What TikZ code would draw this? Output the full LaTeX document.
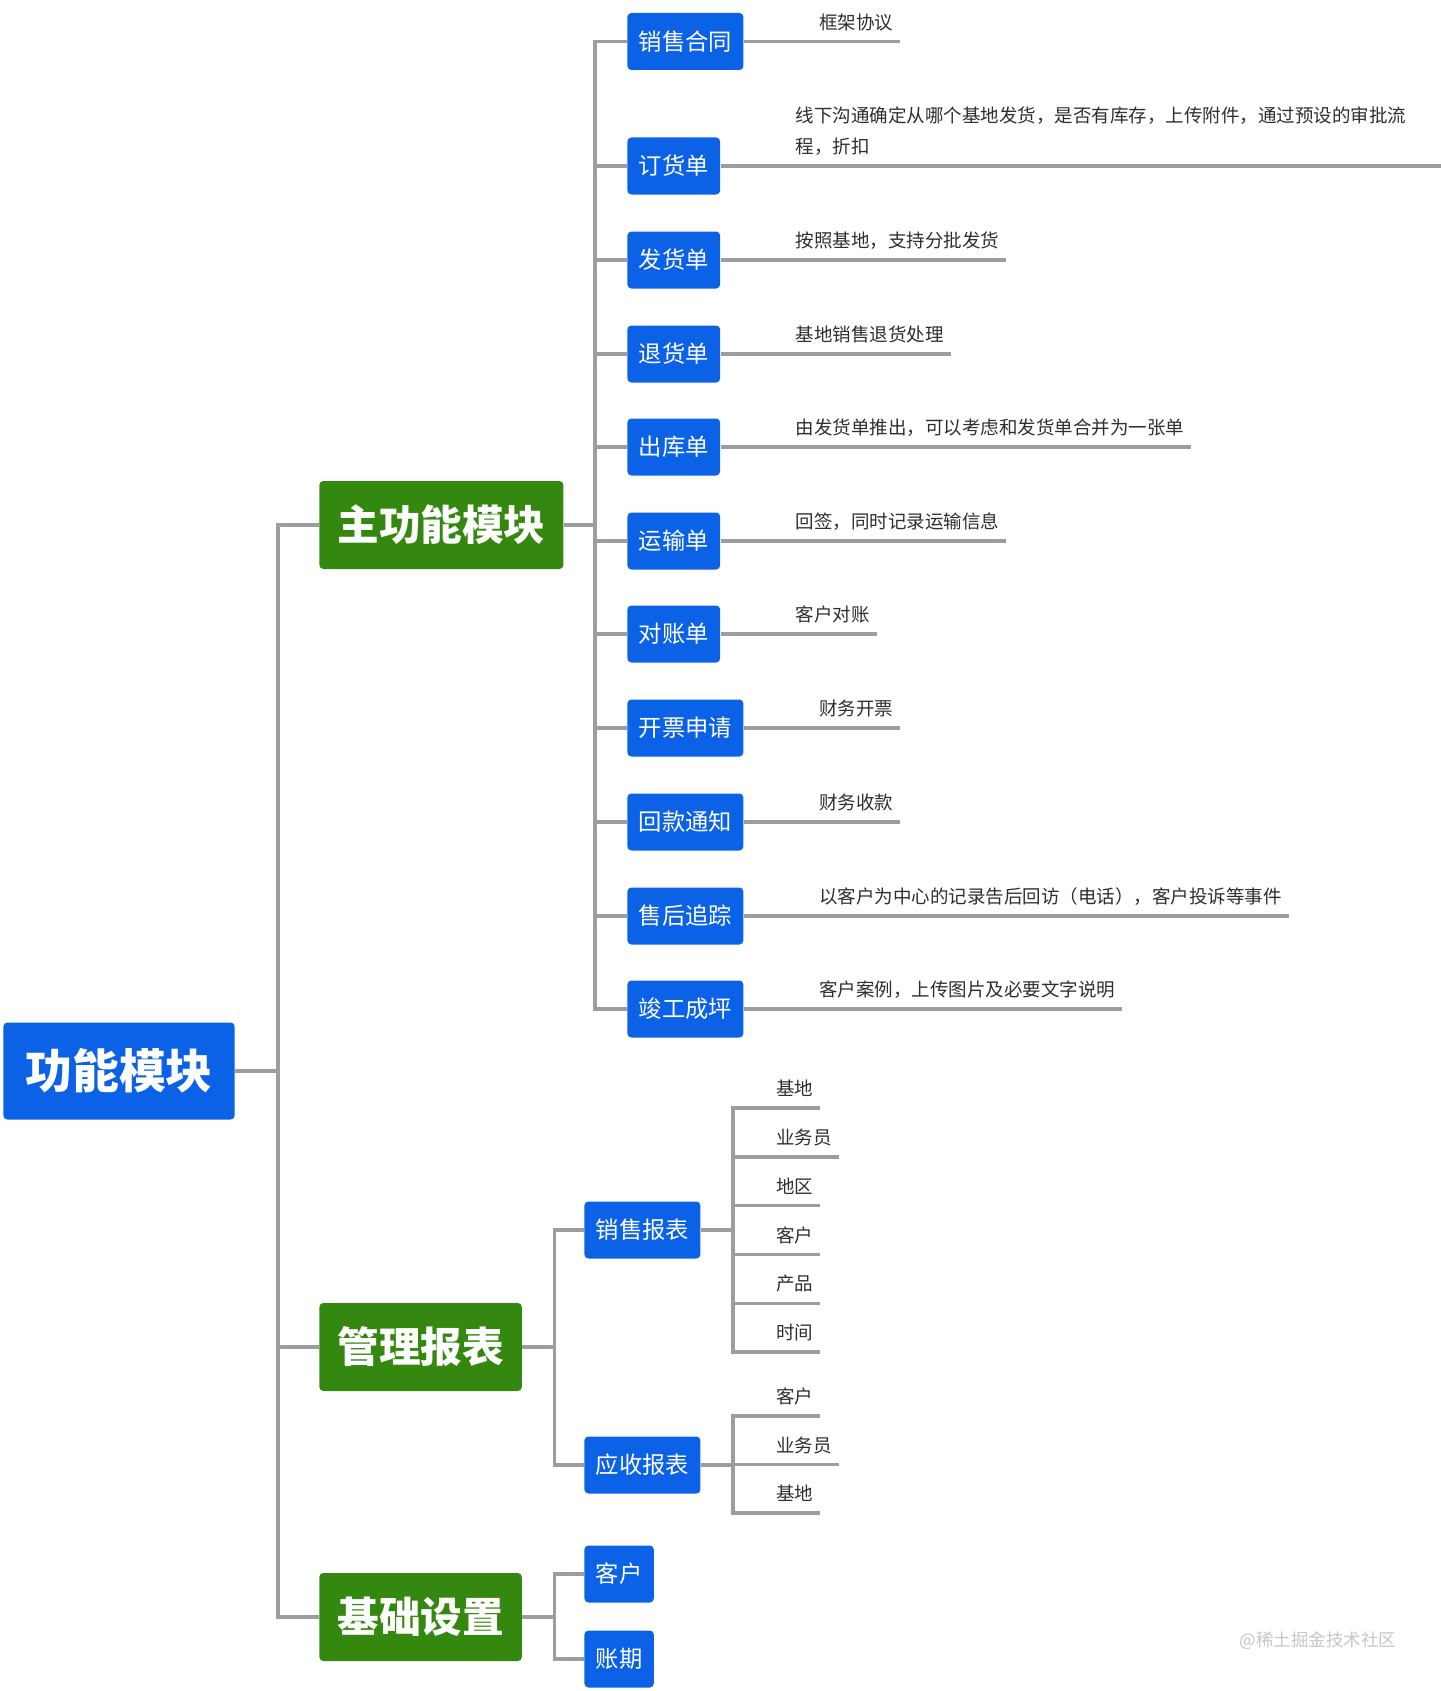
\documentclass[tikz,border=0pt]{standalone}
\usepackage{fontspec}
\setmainfont{Noto Sans CJK SC}
\definecolor{mapblue}{HTML}{0B62E6}
\definecolor{mapgreen}{HTML}{35880F}
\definecolor{mapline}{HTML}{9B9DA1}
\definecolor{maptext}{HTML}{2E2E2E}
\begin{document}
\begin{tikzpicture}[x=0.5pt, y=-0.5pt,
  root/.style={fill=mapblue, text=white, rounded corners=2pt, anchor=west,
    font=\fontsize{23.4}{28}\selectfont\bfseries, inner xsep=11pt, minimum height=48.5pt},
  topic/.style={fill=mapgreen, text=white, rounded corners=2pt, anchor=west,
    font=\fontsize{20.8}{25}\selectfont\bfseries, inner xsep=9pt, minimum height=44pt},
  item/.style={fill=mapblue, text=white, rounded corners=2pt, anchor=west,
    font=\fontsize{11.65}{14}\selectfont, inner xsep=5.7pt, minimum height=28.5pt},
  note/.style={anchor=south west, text=maptext, align=left,
    font=\fontsize{9.25}{15.5}\selectfont, inner xsep=3.25pt, inner ysep=6pt, text depth=0pt},
  link/.style={draw=mapline, line width=1.7pt}]
\useasboundingbox (0,0) rectangle (1440,1691);

% Root and first level
\node[root] (root) at (3,1071) {功能模块};
\node[topic] (main) at (319,525) {主功能模块};
\node[topic] (report) at (319,1347) {管理报表};
\node[topic] (base) at (319,1617) {基础设置};
\foreach \n in {main,report,base}
  \draw[link] (root.east) -- ++(43,0) |- (\n.west);

% Main module items
\node[item] (contract) at (627,41.5) {销售合同};
\node[item] (order) at (627,166) {订货单};
\node[item] (ship) at (627,260) {发货单};
\node[item] (return) at (627,354) {退货单};
\node[item] (out) at (627,447) {出库单};
\node[item] (transport) at (627,541) {运输单};
\node[item] (check) at (627,634) {对账单};
\node[item] (invoice) at (627,728) {开票申请};
\node[item] (payment) at (627,822) {回款通知};
\node[item] (service) at (627,916) {售后追踪};
\node[item] (finish) at (627,1009) {竣工成坪};

% Notes beside the items
\node[note] (contract-note) at ([xshift=34.25pt]contract.east) {框架协议};
\node[note, text width=319.25pt, yshift=15.5pt] (order-note) at ([xshift=34.25pt]order.east)
  {线下沟通确定从哪个基地发货，是否有库存，上传附件，通过预设的审批流\\程，折扣};
\node[note] (ship-note) at ([xshift=34.25pt]ship.east) {按照基地，支持分批发货};
\node[note] (return-note) at ([xshift=34.25pt]return.east) {基地销售退货处理};
\node[note] (out-note) at ([xshift=34.25pt]out.east) {由发货单推出，可以考虑和发货单合并为一张单};
\node[note] (transport-note) at ([xshift=34.25pt]transport.east) {回签，同时记录运输信息};
\node[note] (check-note) at ([xshift=34.25pt]check.east) {客户对账};
\node[note] (invoice-note) at ([xshift=34.25pt]invoice.east) {财务开票};
\node[note] (payment-note) at ([xshift=34.25pt]payment.east) {财务收款};
\node[note] (service-note) at ([xshift=34.25pt]service.east) {以客户为中心的记录告后回访（电话），客户投诉等事件};
\node[note] (finish-note) at ([xshift=34.25pt]finish.east) {客户案例，上传图片及必要文字说明};

\foreach \n in {contract,ship,return,out,transport,check,invoice,payment,service,finish} {
  \draw[link] (main.east) -- ++(31,0) |- (\n.west);
  \draw[link] (\n.east) -- (\n-note.south east);
}
\draw[link] (main.east) -- ++(31,0) |- (order.west);
\draw[link] (order.east) -- (order.east -| order-note.east);

% Reports
\node[item] (sales) at (584,1230) {销售报表};
\node[item] (receive) at (584,1465) {应收报表};
\foreach \n in {sales,receive}
  \draw[link] (report.east) -- ++(32,0) |- (\n.west);

\foreach \t [count=\i from 0] in {基地,业务员,地区,客户,产品,时间} {
  \node[note] (sales-\i) at (769.5,{1108+48.8*\i}) {\t};
  \draw[link] (sales.east) -- ++(32,0) |- (sales-\i.south east);
}
\foreach \t [count=\i from 0] in {客户,业务员,基地} {
  \node[note] (receive-\i) at (769.5,{1416+48.5*\i}) {\t};
  \draw[link] (receive.east) -- ++(32,0) |- (receive-\i.south east);
}

% Basic settings
\node[item] (customer) at (584,1574) {客户};
\node[item] (term) at (584,1659) {账期};
\foreach \n in {customer,term}
  \draw[link] (base.east) -- ++(32,0) |- (\n.west);

% Watermark
\node[text=gray!45, font=\fontsize{8.75}{10}\selectfont] (mark) at (1318,1641) {@稀土掘金技术社区};
\end{tikzpicture}
\end{document}
